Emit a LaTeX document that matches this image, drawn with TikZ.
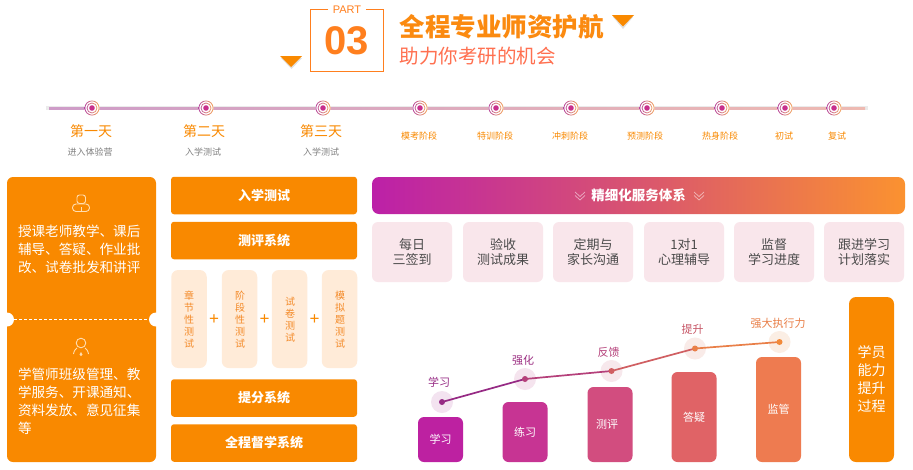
\documentclass[tikz,border=0pt]{standalone}
\usepackage{fontspec}
\setmainfont{Noto Sans CJK SC}
\newfontfamily\latinf{Liberation Sans}
\usetikzlibrary{calc}
\definecolor{org}{HTML}{F98900}
\definecolor{hdr}{HTML}{FF7F1E}
\definecolor{titleo}{HTML}{FB8A10}
\definecolor{subt}{HTML}{FF7050}
\definecolor{peach}{HTML}{FFEBD8}
\definecolor{smalltxt}{HTML}{F48A28}
\definecolor{cardbg}{HTML}{F9E6EB}
\definecolor{cardtxt}{HTML}{4A4A4A}
\definecolor{cream}{HTML}{FFDDB0}
\definecolor{gradL}{HTML}{BC20A8}
\definecolor{gradM}{HTML}{D9556F}
\definecolor{gradR}{HTML}{FB9230}
\definecolor{barA}{HTML}{BD21A1}
\definecolor{barB}{HTML}{C73493}
\definecolor{barC}{HTML}{D24D7F}
\definecolor{barD}{HTML}{E06366}
\definecolor{barE}{HTML}{EE7B50}
\definecolor{hA}{HTML}{F3E3F0}
\definecolor{hB}{HTML}{F5E4EE}
\definecolor{hC}{HTML}{F7E8EC}
\definecolor{hD}{HTML}{F9EBE8}
\definecolor{hE}{HTML}{FBEEE4}
\definecolor{cA}{HTML}{962A84}
\definecolor{cB}{HTML}{B5407A}
\definecolor{cC}{HTML}{D05F62}
\definecolor{cD}{HTML}{E97F48}
\definecolor{cE}{HTML}{F28A3A}
\definecolor{lineL}{HTML}{CE9CC8}
\definecolor{lineR}{HTML}{EEBAB2}
\definecolor{ringL}{HTML}{B8489E}
\definecolor{ringR}{HTML}{F7A858}
\definecolor{core}{HTML}{C8308C}
\newcommand{\fs}[2]{\fontsize{#1}{#2}\selectfont}
\tikzset{
  x=1pt,y=-1pt,
  every node/.style={inner sep=0pt,outer sep=0pt},
  btn/.style={fill=org,rounded corners=3pt,minimum width=186pt,minimum height=37.5pt,text=white,font=\fs{13}{16}\bfseries},
  minib/.style={fill=peach,rounded corners=7pt,minimum width=35.5pt,minimum height=98pt},
  vtxt/.style={text=smalltxt,align=center,font=\fs{10}{12}},
  plusn/.style={text=org,font=\latinf\fs{17}{17}},
  card/.style={fill=cardbg,rounded corners=6pt,minimum width=80pt,minimum height=60pt,text=cardtxt,align=center,font=\fs{13}{15.5}},
  tl/.style={circle,fill=white,minimum size=15pt},
  daybig/.style={text=org,font=\fs{14}{16}},
  daysub/.style={text=black!50,font=\fs{9}{10}},
  stage/.style={text=org,font=\fs{9}{10}},
  bar/.style={rounded corners=6pt,minimum width=45pt,text=white,font=\fs{11}{13}},
  halo/.style={circle,minimum size=22pt},
  dot/.style={circle,minimum size=6pt},
  clab/.style={font=\fs{11}{13}},
  seg/.style={line width=1.7pt,line cap=round},
  icon/.style={draw=cream,line width=0.9pt},
  leftt/.style={text=white,align=left,anchor=north west,font=\fs{13.6}{18}},
  tri/.style={fill=org},
  trishade/.style={fill=black!12},
  chev/.style={draw=white,opacity=0.55,line width=0.7pt}
}
\begin{document}
\begin{tikzpicture}
\useasboundingbox (0,0) rectangle (913,469);
\fill[white] (0,0) rectangle (913,469);
% header
\fill[trishade] (281,58)--(302,58)--(291.5,69)--cycle;
\fill[tri] (280,56)--(302,56)--(291,67)--cycle;
\fill[trishade] (613,17)--(633,17)--(623,29)--cycle;
\fill[tri] (612,15)--(634,15)--(623,26.5)--cycle;
\draw[hdr,line width=1pt] (328,9.5)--(310.5,9.5)--(310.5,71.5)--(383.5,71.5)--(383.5,9.5)--(366,9.5);
\node[text=hdr,font=\latinf\fs{11}{12}] (part) at (347,10) {PART};
\node[text=hdr,font=\latinf\fs{40}{40}\bfseries] (num) at (347,41) {03};
\node[anchor=west,text=titleo,font=\fs{25.5}{28}\bfseries] (title) at (399.5,27) {全程专业师资护航};
\node[anchor=west,text=subt,font=\fs{19.5}{22}] (subtitle) at (399.5,56) {助力你考研的机会};
% timeline
\fill[black!8] (46,106) rectangle (868,110);
\shade[left color=lineL,right color=lineR] (49,107) rectangle (865,109);
\foreach \n/\x in {1/92,2/206,3/323,4/420,5/496,6/571,7/647,8/722,9/785,10/834}{
  \node[tl] (t\n) at (\x,108) {};
  \shade[left color=ringL,right color=ringR,even odd rule] (t\n.center) circle (7.5) circle (6.7) circle (5.4) circle (4.6);
  \fill[core] (t\n.center) circle (2.8);
}
\node[daybig] (d1) at (91,131) {第一天};
\node[daybig] (d2) at (204,131) {第二天};
\node[daybig] (d3) at (321,131) {第三天};
\node[daysub] (s1) at (90,152) {进入体验营};
\node[daysub] (s2) at (203,152) {入学测试};
\node[daysub] (s3) at (321,152) {入学测试};
\node[stage] (g4) at (419,136) {模考阶段};
\node[stage] (g5) at (495,136) {特训阶段};
\node[stage] (g6) at (570,136) {冲刺阶段};
\node[stage] (g7) at (645,136) {预测阶段};
\node[stage] (g8) at (720,136) {热身阶段};
\node[stage] (g9) at (784,136) {初试};
\node[stage] (g10) at (837,136) {复试};
% left panel
\node[fill=org,rounded corners=6pt,minimum width=149pt,minimum height=285pt] (panel) at (81.5,319.5) {};
\node[circle,fill=white,minimum size=14pt] (nl) at (7,319.5) {};
\node[circle,fill=white,minimum size=14pt] (nr) at (156,319.5) {};
\draw[white,line width=0.7pt,dash pattern=on 3pt off 2pt] (nl) -- (nr);
\draw[icon,rounded corners=2.5pt] (77,195) rectangle (85.5,203.5);
\draw[icon,rounded corners=3.5pt] (72.5,204) rectangle (89.5,211.5);
\draw[icon] (81,207)--(81,211);
\draw[icon] (81,343) circle (4.8);
\draw[icon] (73.5,354) .. controls (74,350.5) and (75.5,349) .. (77,348);
\draw[icon] (88.5,354) .. controls (88,350.5) and (86.5,349) .. (85,348);
\fill[cream] (81,352) -- (82.5,354.5) -- (81,356) -- (79.5,354.5) -- cycle;
\node[leftt] (lt1) at (18,225) {授课老师教学、课后\\辅导、答疑、作业批\\改、试卷批发和讲评};
\node[leftt] (lt2) at (18,368) {学管师班级管理、教\\学服务、开课通知、\\资料发放、意见征集\\等};
% middle
\node[btn] (b1) at (264,195.5) {入学测试};
\node[btn] (b2) at (264,240.5) {测评系统};
\node[btn] (b3) at (264,398) {提分系统};
\node[btn] (b4) at (264,443) {全程督学系统};
\node[minib] (m1) at (189,319) {};
\node[minib] (m2) at (239.5,319) {};
\node[minib] (m3) at (289.5,319) {};
\node[minib] (m4) at (339.5,319) {};
\node[vtxt] (v1) at (189,319.5) {章\\节\\性\\测\\试};
\node[vtxt] (v2) at (240,319.5) {阶\\段\\性\\测\\试};
\node[vtxt] (v3) at (290,320) {试\\卷\\测\\试};
\node[vtxt] (v4) at (340,319.5) {模\\拟\\题\\测\\试};
\node[plusn] (p1) at (214,320) {+};
\node[plusn] (p2) at (264.5,320) {+};
\node[plusn] (p3) at (314.5,320) {+};
% right header
\node[rounded corners=7pt,minimum width=533pt,minimum height=37pt,left color=gradL,right color=gradR,middle color=gradM,text=white,font=\fs{13.5}{16}\bfseries] (bar0) at (638.5,195.5) {精细化服务体系};
\foreach \x in {580,699}{
  \draw[chev] (\x-5,192)--(\x,196.5)--(\x+5,192);
  \draw[chev] (\x-5,195.5)--(\x,200)--(\x+5,195.5);
}
\node[card] (c1) at (412,252) {每日\\三签到};
\node[card] (c2) at (503,252) {验收\\测试成果};
\node[card] (c3) at (593,252) {定期与\\家长沟通};
\node[card] (c4) at (684,252) {1对1\\心理辅导};
\node[card] (c5) at (774,252) {监督\\学习进度};
\node[card] (c6) at (864,252) {跟进学习\\计划落实};
% bars
\node[bar,fill=barA,minimum height=45pt] (k1) at (440.5,439.5) {学习};
\node[bar,fill=barB,minimum height=60pt] (k2) at (525,432) {练习};
\node[bar,fill=barC,minimum height=75pt] (k3) at (610,424.5) {};
\node[text=white,font=\fs{11}{13}] (k3t) at (607,424.5) {测评};
\node[bar,fill=barD,minimum height=90pt] (k4) at (694,417) {答疑};
\node[bar,fill=barE,minimum height=105pt] (k5) at (778.5,409.5) {监管};
% chart
\node[halo,fill=hA] (h1) at (442,402) {};
\node[halo,fill=hB] (h2) at (525,379) {};
\node[halo,fill=hC] (h3) at (611.5,371) {};
\node[halo,fill=hD] (h4) at (695,348.5) {};
\node[halo,fill=hE] (h5) at (779.5,342) {};
\draw[seg,cA] (h1.center) -- (h2.center);
\draw[seg,cB] (h2.center) -- (h3.center);
\draw[seg,cC] (h3.center) -- (h4.center);
\draw[seg,cD] (h4.center) -- (h5.center);
\node[dot,fill=cA] (q1) at (h1.center) {};
\node[dot,fill=cB] (q2) at (h2.center) {};
\node[dot,fill=cC] (q3) at (h3.center) {};
\node[dot,fill=cD] (q4) at (h4.center) {};
\node[dot,fill=cE] (q5) at (h5.center) {};
\node[clab,text=cA] (l1) at (439,382.5) {学习};
\node[clab,text=cA!80!cB] (l2) at (523,360.5) {强化};
\node[clab,text=cB] (l3) at (608.5,352.5) {反馈};
\node[clab,text=cC!85!cA] (l4) at (692.5,329.5) {提升};
\node[clab,text=cD] (l5) at (778,323) {强大执行力};
% right column
\node[fill=org,rounded corners=7pt,minimum width=45pt,minimum height=165pt,text=white,align=center,font=\fs{14}{18}] (col) at (871.5,379.5) {学员\\能力\\提升\\过程};
\end{tikzpicture}
\end{document}
